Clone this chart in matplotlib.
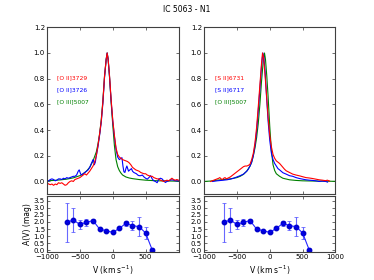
import matplotlib
matplotlib.use("Agg")
import matplotlib.pyplot as plt
import numpy as np

# ---------------- data ----------------
title = "IC 5063 - N1"

# Left panel: [O II]3729 (red), [O II]3726 (blue), [O III]5007 (green)
v_oii29 = [-1000, -975, -950, -925, -900, -875, -850, -825, -800, -775, -750, -725, -700, -675,
           -650, -625, -600, -575, -550, -525, -500, -475, -450, -425, -400, -375, -350, -325,
           -300, -275, -250, -225, -200, -175, -150, -125, -100, -85, -70, -50, -25, 0, 25, 50,
           75, 100, 125, 150, 175, 200, 225, 250, 275, 300, 325, 350, 375, 400, 425, 450, 475,
           500, 525, 550, 575, 600, 625, 650, 675, 700, 725, 750, 775, 800, 825, 850, 875, 900,
           925, 950, 975, 1000]
f_oii29 = [-0.01, -0.02, -0.025, -0.02, -0.03, -0.02, -0.025, -0.01, -0.015, -0.01, -0.02, -0.03,
           -0.025, -0.01, 0.0, 0.005, 0.0, 0.015, 0.02, 0.025, 0.03, 0.04, 0.05, 0.06, 0.05, 0.065,
           0.08, 0.1, 0.12, 0.15, 0.2, 0.28, 0.37, 0.47, 0.62, 0.82, 0.95, 1.0, 0.95, 0.83, 0.64,
           0.48, 0.36, 0.26, 0.21, 0.19, 0.18, 0.17, 0.165, 0.16, 0.155, 0.145, 0.13, 0.11, 0.1,
           0.09, 0.085, 0.08, 0.07, 0.065, 0.06, 0.06, 0.05, 0.045, 0.04, 0.04, 0.03, 0.025,
           0.02, 0.02, 0.01, 0.005, 0.0, 0.005, 0.01, 0.005, 0.015, 0.025, 0.015, 0.01, 0.015,
           0.01]

v_oii26 = [-1000, -975, -950, -925, -900, -875, -850, -825, -800, -775, -750, -725, -700, -675,
           -650, -625, -600, -575, -550, -525, -510, -490, -475, -450, -425, -400, -375, -350,
           -325, -300, -290, -280, -265, -250, -225, -200, -175, -150, -125, -100, -85, -70, -50,
           -25, 0, 25, 50, 75, 100, 125, 140, 155, 170, 185, 200, 215, 240, 260, 285, 300, 320,
           340, 360, 380, 400, 425, 450, 475, 500, 525, 550, 575, 600, 625, 650, 675, 700, 725,
           750, 775, 800, 825, 850, 875, 900, 925, 950, 975, 1000]
f_oii26 = [0.0, 0.005, 0.015, 0.02, 0.015, 0.005, 0.01, 0.02, 0.02, 0.015, 0.025, 0.02, 0.03,
           0.025, 0.03, 0.035, 0.04, 0.04, 0.05, 0.08, 0.09, 0.06, 0.05, 0.06, 0.07, 0.08, 0.09,
           0.11, 0.14, 0.17, 0.16, 0.13, 0.15, 0.2, 0.27, 0.36, 0.46, 0.61, 0.81, 0.95, 1.0, 0.95,
           0.82, 0.63, 0.47, 0.35, 0.25, 0.19, 0.17, 0.18, 0.185, 0.12, 0.075, 0.07, 0.1, 0.12,
           0.08, 0.09, 0.1, 0.08, 0.07, 0.065, 0.06, 0.05, 0.045, 0.045, 0.05, 0.035, 0.025,
           0.018, 0.03, 0.045, 0.02, 0.005, 0.0, -0.01, 0.018, 0.025, 0.02, 0.005, -0.008, 0.0,
           0.005, 0.01, 0.013, 0.01, 0.005, 0.005, 0.005]

v_oiii_l = [-1000, -900, -800, -700, -600, -500, -450, -400, -350, -300, -250, -225, -200, -175,
            -150, -125, -100, -85, -70, -50, -25, 0, 25, 50, 75, 100, 125, 150, 200, 250, 300,
            400, 500, 600, 700, 800, 1000]
f_oiii_l = [0.005, 0.008, 0.012, 0.018, 0.028, 0.045, 0.06, 0.08, 0.11, 0.16, 0.23, 0.29, 0.37,
            0.48, 0.63, 0.82, 0.95, 1.0, 0.95, 0.82, 0.62, 0.44, 0.28, 0.17, 0.115, 0.085, 0.065,
            0.05, 0.035, 0.027, 0.022, 0.015, 0.01, 0.007, 0.005, 0.004, 0.002]

# Right panel: [S II]6731 (red), [S II]6717 (blue), [O III]5007 (green)
v_sii31 = [-900, -875, -850, -825, -800, -775, -760, -740, -720, -700, -680, -660, -640, -620,
           -600, -575, -550, -525, -500, -475, -450, -425, -400, -375, -350, -325, -300, -275,
           -250, -225, -200, -175, -150, -125, -110, -95, -75, -50, -25, 0, 25, 50, 75, 100, 125,
           150, 175, 200, 225, 250, 300, 350, 400, 450, 500, 550, 600, 650, 700, 750, 800, 850,
           875, 910]
f_sii31 = [0.0, 0.005, 0.01, 0.015, 0.02, 0.025, 0.03, 0.02, 0.015, 0.025, 0.03, 0.02, 0.025,
           0.03, 0.035, 0.045, 0.055, 0.065, 0.075, 0.085, 0.095, 0.105, 0.115, 0.12, 0.12,
           0.125, 0.135, 0.17, 0.22, 0.3, 0.42, 0.58, 0.75, 0.92, 1.0, 0.97, 0.85, 0.68, 0.5,
           0.36, 0.27, 0.21, 0.18, 0.16, 0.15, 0.14, 0.125, 0.11, 0.095, 0.083, 0.07, 0.057,
           0.05, 0.044, 0.037, 0.03, 0.027, 0.023, 0.018, 0.013, 0.01, 0.006, 0.01, 0.003]

v_sii17 = [-870, -800, -700, -650, -600, -550, -500, -450, -400, -350, -325, -300, -275, -250,
           -225, -200, -175, -150, -125, -105, -90, -70, -50, -25, 0, 25, 50, 75, 100, 125, 150,
           200, 250, 300, 350, 400, 450, 500, 550, 600, 650, 700, 750, 800, 850, 880]
f_sii17 = [0.0, 0.005, 0.01, 0.013, 0.018, 0.025, 0.035, 0.045, 0.057, 0.08, 0.096, 0.12, 0.15,
           0.2, 0.28, 0.39, 0.55, 0.72, 0.9, 1.0, 0.97, 0.85, 0.67, 0.47, 0.32, 0.22, 0.17, 0.14,
           0.12, 0.1, 0.09, 0.068, 0.057, 0.045, 0.04, 0.03, 0.023, 0.018, 0.013, 0.01, 0.008,
           0.005, 0.0, 0.003, 0.0, -0.005]

v_oiii_r = [-1000, -900, -800, -700, -600, -500, -450, -400, -350, -300, -275, -250, -225, -200,
            -175, -150, -125, -100, -80, -65, -45, -25, 0, 25, 50, 75, 100, 150, 200, 300, 400,
            500, 700, 1000]
f_oiii_r = [0.0, 0.003, 0.01, 0.015, 0.02, 0.03, 0.04, 0.055, 0.08, 0.12, 0.15, 0.2, 0.26, 0.34,
            0.45, 0.6, 0.78, 0.93, 1.0, 0.95, 0.82, 0.66, 0.43, 0.24, 0.13, 0.085, 0.06, 0.04,
            0.025, 0.013, 0.008, 0.005, 0.003, 0.001]

# Extinction A(V) vs velocity (same in both lower panels)
v_av = [-700, -600, -500, -400, -300, -200, -100, 0, 100, 200, 300, 400, 500, 600]
av = [1.98, 2.14, 1.83, 1.98, 2.1, 1.5, 1.38, 1.26, 1.55, 1.9, 1.74, 1.67, 1.22, 0.02]
av_err = [1.37, 0.86, 0.32, 0.24, 0.08, 0.05, 0.05, 0.05, 0.06, 0.17, 0.3, 0.68, 0.4, 0.1]

labels_left = ["[O II]3729", "[O II]3726", "[O III]5007"]
labels_right = ["[S II]6731", "[S II]6717", "[O III]5007"]

# ---------------- plot ----------------
plt.rcParams['font.family'] = ['DejaVu Sans']
fig = plt.figure(figsize=(3.74, 2.80), dpi=100)

lx = [47 / 374, 204 / 374]
w = 131.5 / 374
top_b = 1 - 194.3 / 280
top_h = 167 / 280
low_b = 1 - 252.3 / 280
low_h = (252.3 - 195.5) / 280

spine_c = '0.25'
fs = 5

def style(ax):
    ax.tick_params(direction='in', top=True, right=True, labelsize=fs, length=2.5,
                   width=0.5, pad=1.5, color='0.2')
    for s in ax.spines.values():
        s.set_linewidth(0.8)
        s.set_color(spine_c)

panels = [
    ((v_oii29, f_oii29), (v_oii26, f_oii26), (v_oiii_l, f_oiii_l), labels_left),
    ((v_sii31, f_sii31), (v_sii17, f_sii17), (v_oiii_r, f_oiii_r), labels_right),
]
cols = ['red', 'blue', 'green']
label_y = [0.81, 0.715, 0.617]
label_x = [0.074, 0.083]

for i, (r, b, g, labs) in enumerate(panels):
    ax = fig.add_axes([lx[i], top_b, w, top_h])
    ax.plot(g[0], g[1], color=cols[2], lw=0.8)
    ax.plot(b[0], b[1], color=cols[1], lw=0.8)
    ax.plot(r[0], r[1], color=cols[0], lw=0.8)
    ax.set_xlim(-1000, 1000)
    ax.set_ylim(-0.1, 1.2)
    ax.set_xticks([-1000, -500, 0, 500, 1000])
    ax.set_xticklabels([])
    ax.set_yticks([0.0, 0.2, 0.4, 0.6, 0.8, 1.0, 1.2])
    ax.set_yticklabels(["0.0", "0.2", "0.4", "0.6", "0.8", "1.0", "1.2"])
    style(ax)
    xl = -1000 + label_x[i] * 2000
    for lab, c, yy in zip(labs, cols, label_y):
        ax.text(xl, yy, lab, color=c, fontsize=4.3, va='center', ha='left')

    axl = fig.add_axes([lx[i], low_b, w, low_h])
    axl.errorbar(v_av, av, yerr=av_err, fmt='-', color='blue', ecolor=(0.3, 0.3, 1.0),
                 elinewidth=0.8, capsize=1.5, capthick=0.6, lw=0.8, alpha=0.85)
    axl.plot(v_av, av, 'o', color='#0000cc', ms=3.2, mec='#0000cc')
    axl.set_xlim(-1000, 1000)
    axl.set_ylim(-0.15, 3.88)
    axl.set_yticks([0.0, 0.5, 1.0, 1.5, 2.0, 2.5, 3.0, 3.5])
    axl.set_yticklabels(["0.0", "0.5", "1.0", "1.5", "2.0", "2.5", "3.0", "3.5"])
    if i == 0:
        axl.set_xticks([-1000, -500, 0, 500])
        axl.set_xticklabels(["\u22121000", "\u2212500", "0", "500"])
        axl.set_ylabel("A(V) (mag)", fontsize=5.5, labelpad=1)
    else:
        axl.set_xticks([-1000, -500, 0, 500, 1000])
        axl.set_xticklabels(["\u22121000", "\u2212500", "0", "500", "1000"])
    axl.set_xlabel("V (km s$^{-1}$)", fontsize=5.5, labelpad=2)
    style(axl)

fig.text(0.5, 1 - 9 / 280, title, ha='center', va='center', fontsize=5.5)

fig.savefig("out.png", dpi=100)
